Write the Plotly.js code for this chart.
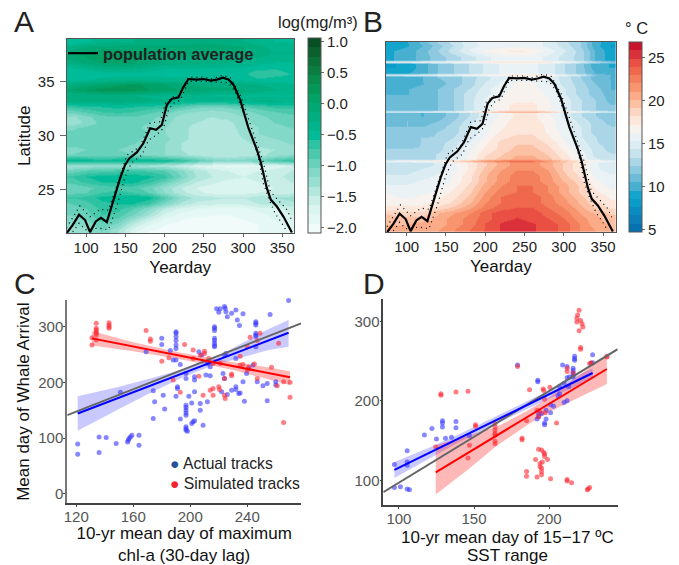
<!DOCTYPE html>
<html>
<head>
<meta charset="utf-8">
<script src="https://cdn.plot.ly/plotly-3.0.1.min.js"></script>
<style>html,body{margin:0;padding:0;background:#fff}</style>
</head>
<body>
<div id="grafico" style="width:679px;height:565px"></div>
<script>
// heatmap grid
const days = [80,100,120,140,160,180,200,220,240,260,280,300,320,340,360];
const chlLats = [21.25,21.75,22.25,22.75,23.25,23.75,24.25,24.75,25.25,25.75,26.25,26.75,27.25,27.75,28.25,28.75,29.25,29.75,30.25,30.75,31.25,31.75,32.25,32.75,33.25,33.75,34.25,34.75,35.25,35.75,36.25,36.75,37.25,37.75,38.25,38.75];
// sst has thin warm stripes, so its rows are not evenly spaced
const sstLats = [21.25,21.75,22.25,22.75,23.25,23.75,24.25,24.75,25.25,25.75,26.25,26.75,27.25,27.45,27.6,27.75,28.25,28.75,29.25,29.75,30.25,30.75,31.25,31.75,32,32.15,32.3,32.75,33.25,33.75,34.25,34.75,35.25,35.4,35.55,35.7,36.25,36.6,36.75,36.9,37.25,37.75,38.25,38.75];

// chl-a, log(mg/m3), bottom row first
const chl = [
[-1.35,-1.25,-1.05,-1.35,-1.75,-1.95,-2.0,-2.05,-2.1,-2.1,-2.05,-2.0,-1.95,-1.9,-1.8],
[-1.2,-1.15,-0.95,-1.1,-1.55,-1.8,-1.95,-2.0,-2.05,-2.05,-2.05,-2.0,-1.95,-1.85,-1.75],
[-1.1,-1.05,-0.85,-0.95,-1.3,-1.6,-1.85,-1.95,-2.0,-2.0,-2.0,-1.95,-1.9,-1.8,-1.7],
[-1.05,-0.95,-0.75,-0.8,-1.05,-1.35,-1.7,-1.85,-1.9,-1.95,-1.95,-1.9,-1.85,-1.75,-1.65],
[-1.0,-0.9,-0.7,-0.7,-0.9,-1.15,-1.5,-1.7,-1.8,-1.85,-1.85,-1.85,-1.75,-1.7,-1.6],
[-0.9,-0.8,-0.65,-0.6,-0.6,-0.75,-1.1,-1.4,-1.55,-1.6,-1.65,-1.6,-1.5,-1.45,-1.4],
[-0.75,-0.7,-0.55,-0.5,-0.45,-0.5,-0.85,-1.2,-1.4,-1.45,-1.5,-1.5,-1.4,-1.35,-1.3],
[-0.95,-0.9,-0.75,-0.7,-0.75,-0.9,-1.2,-1.45,-1.6,-1.7,-1.75,-1.7,-1.65,-1.6,-1.55],
[-1.05,-0.95,-0.85,-0.8,-0.85,-1.0,-1.25,-1.5,-1.65,-1.75,-1.8,-1.75,-1.7,-1.65,-1.6],
[-0.85,-0.7,-0.6,-0.55,-0.55,-0.7,-0.95,-1.25,-1.5,-1.6,-1.7,-1.7,-1.65,-1.6,-1.5],
[-0.75,-0.6,-0.5,-0.5,-0.5,-0.55,-0.7,-1.05,-1.35,-1.5,-1.6,-1.65,-1.6,-1.55,-1.45],
[-1.0,-0.9,-0.85,-0.8,-0.75,-0.8,-0.9,-1.15,-1.4,-1.55,-1.65,-1.7,-1.65,-1.6,-1.5],
[-1.35,-1.3,-1.25,-1.25,-1.3,-1.35,-1.4,-1.55,-1.7,-1.8,-1.85,-1.85,-1.8,-1.75,-1.65],
[-0.45,-0.5,-0.55,-0.5,-0.45,-0.45,-0.55,-0.65,-0.85,-1.05,-1.15,-1.1,-1.0,-0.8,-0.7],
[-1.05,-1.0,-1.0,-1.0,-1.05,-1.1,-1.2,-1.3,-1.4,-1.5,-1.5,-1.45,-1.4,-1.3,-1.2],
[-1.1,-1.05,-1.0,-1.05,-1.1,-1.15,-1.2,-1.35,-1.45,-1.5,-1.5,-1.45,-1.4,-1.35,-1.25],
[-1.0,-1.0,-0.95,-1.0,-1.05,-1.1,-1.2,-1.35,-1.45,-1.5,-1.5,-1.4,-1.3,-1.25,-1.2],
[-0.95,-0.95,-0.9,-0.95,-1.0,-1.1,-1.15,-1.3,-1.4,-1.45,-1.45,-1.35,-1.25,-1.2,-1.15],
[-1.0,-0.95,-0.9,-0.9,-0.95,-1.05,-1.2,-1.3,-1.4,-1.45,-1.45,-1.3,-1.2,-1.15,-1.1],
[-1.1,-1.0,-0.95,-0.95,-1.0,-1.1,-1.2,-1.3,-1.4,-1.4,-1.4,-1.3,-1.2,-1.1,-1.05],
[-1.35,-1.15,-1.0,-0.95,-1.0,-1.05,-1.15,-1.3,-1.35,-1.4,-1.4,-1.25,-1.15,-1.05,-1.0],
[-1.25,-1.1,-0.95,-0.9,-0.9,-1.0,-1.1,-1.25,-1.3,-1.35,-1.3,-1.2,-1.1,-1.0,-0.95],
[-1.0,-0.85,-0.75,-0.7,-0.75,-0.85,-0.95,-1.15,-1.2,-1.25,-1.2,-1.1,-1.0,-0.9,-0.85],
[-0.7,-0.65,-0.6,-0.55,-0.6,-0.65,-0.7,-0.85,-1.0,-1.05,-1.0,-0.9,-0.8,-0.7,-0.7],
[-0.2,-0.2,-0.2,-0.15,-0.2,-0.25,-0.3,-0.35,-0.4,-0.4,-0.4,-0.35,-0.3,-0.3,-0.35],
[-0.3,-0.3,-0.25,-0.25,-0.3,-0.35,-0.4,-0.4,-0.4,-0.45,-0.45,-0.45,-0.45,-0.45,-0.45],
[0.0,0.15,0.25,0.3,0.25,0.15,0.05,0.0,-0.05,-0.1,-0.1,-0.15,-0.2,-0.3,-0.35],
[-0.2,-0.1,0.0,0.1,0.2,0.1,0.0,-0.1,-0.15,-0.2,-0.2,-0.25,-0.3,-0.35,-0.4],
[-0.5,-0.45,-0.4,-0.35,-0.35,-0.35,-0.4,-0.4,-0.4,-0.4,-0.45,-0.5,-0.55,-0.55,-0.55],
[-0.6,-0.6,-0.55,-0.5,-0.5,-0.5,-0.5,-0.5,-0.5,-0.5,-0.55,-0.55,-0.75,-0.65,-0.6],
[-0.5,-0.4,-0.3,-0.25,-0.3,-0.4,-0.45,-0.45,-0.45,-0.45,-0.5,-0.5,-0.55,-0.6,-0.55],
[-0.25,-0.1,0.0,0.05,0.0,-0.1,-0.2,-0.25,-0.25,-0.3,-0.3,-0.35,-0.4,-0.45,-0.45],
[-0.1,0.0,0.1,0.1,0.05,-0.05,-0.1,-0.15,-0.2,-0.2,-0.25,-0.25,-0.3,-0.35,-0.35],
[-0.05,0.05,0.1,0.1,0.05,0.0,-0.05,-0.05,-0.1,-0.1,-0.1,-0.15,-0.25,-0.3,-0.3],
[-0.3,-0.15,-0.1,-0.1,-0.1,-0.1,-0.1,-0.1,-0.05,-0.05,-0.1,-0.15,-0.25,-0.35,-0.35],
[-0.6,-0.5,-0.35,-0.35,-0.3,-0.25,-0.25,-0.25,-0.2,-0.2,-0.25,-0.3,-0.4,-0.45,-0.45]
];

// SST, deg C, bottom row first
const sst = [
[20.5,20.5,20.5,21,22,23,24,25,25.5,25,24.5,23.5,22,21,20],
[20,20,20.5,20.5,21.5,22.5,24,25,25.5,25,24.5,23.5,22,20.5,20],
[19.5,19.5,19.5,20.5,21.5,22.5,23.5,24.5,25,24.5,24,23,21.5,20.5,19.5],
[19,18.5,18.5,20,21,22,23.5,24.5,24.5,24.5,23.5,22.5,21,20,19],
[17.5,17.5,17.5,18.5,19.5,21,22.5,23.5,24,24,23,22,20.5,19,18],
[17,17,17,17.5,18.5,20,22,23,23.5,23.5,22.5,21.5,20,18.5,17.5],
[16.5,16,16.5,17,18,19.5,21.5,23,23.5,23.5,22.5,21,19.5,18,17],
[16,16,16,16.5,17.5,19,21,22.5,23,23,22,20.5,19,17.5,16.5],
[15.5,15.5,15.5,16,17,18.5,20.5,22,23,23,22,20.5,19,17,16],
[15,15,15.5,15.5,16.5,18,20,21.5,22.5,22.5,21.5,20,18.5,16.5,15.5],
[14.5,14.5,15,15.5,16.5,18,20,21.5,22.5,22.5,21.5,19.5,18,16,15.5],
[14,14,14.5,15,16,17.5,19.5,21,22,22,21,19,17.5,15.5,15],
[13.5,14,14,14.5,16,17.5,19,20.5,21.5,21.5,20.5,19,17.5,15.5,14.5],
[13.5,14,14,14.5,16,17.5,19,20.5,21.5,21.5,20.5,19,17.5,15.5,14.5],
[16,16.5,17,17.5,18.5,20,21.5,22.5,23.5,23,21.5,19.5,18,16.5,16],
[12.5,13,13,13.5,15,16.5,18.5,19.5,20.5,20.5,19.5,18,16,14.5,14],
[12.5,13,13,13.5,14.5,16.5,18,19,20,20,19,17.5,16,14,13.5],
[12.5,12.5,12.5,13,14.5,16,17.5,18.5,19.5,19.5,18.5,17,15.5,14,13],
[12,12,12.5,13,14,15.5,17,18.5,19,19,18,16.5,15,13.5,13],
[11.5,12,12.5,12.5,13.5,15,16.5,18,18.5,18.5,17.5,16,14.5,13.5,12.5],
[11.5,11.5,12,12.5,13,14.5,16,17.5,18,18,17,16,14.5,13,12.5],
[11.5,11.5,11.5,12,13,14.5,16,17,18,18,17,15.5,14.5,13,12.5],
[11,11.5,11,11.5,12.5,14,15.5,17,17.5,17.5,17,15.5,14,13,12],
[11,11,10.5,11,12,13.5,15,16.5,17.5,17.5,16.5,15,13.5,12.5,11.5],
[11,11,10.5,11,12,13.5,15,16.5,17.5,17.5,16.5,15,13.5,12.5,11.5],
[15,15,15.5,15.5,16,17,18.5,20,20.5,20.5,19.5,17.5,16.5,15.5,15],
[11,11,11,11.5,12.5,14,15.5,17,17.5,17.5,16.5,15,13.5,12.5,11.5],
[11,11,11,11.5,12.5,14,15.5,17,17.5,17.5,16.5,15,13.5,12.5,11.5],
[11,11,11,11.5,12.5,14,15.5,16.5,17,17,16.5,15,13.5,12.5,11],
[10.5,10.5,11,11.5,12.5,14,15,16,17,17,16,14.5,13,12,11],
[10.5,10.5,11,11.5,12.5,13.5,15,16,16.5,16.5,16,14.5,13,12,10.5],
[10,10,10.5,11,12,13,14.5,15.5,16.5,16.5,15.5,14,13,11.5,10.5],
[10,10,10.5,11.5,12,13,14,15,16,16,15,14,12.5,11,10.5],
[10,10,10.5,11.5,12,13,14,15,16,16,15,14,12.5,11,10.5],
[14.5,15,15,15.5,16,16.5,16.5,17,17.5,17.5,17,15.5,14.5,11.5,10.5],
[9.5,9.5,10,11.5,12.5,13.5,14.5,15.5,16,15.5,15,13.5,12,10.5,10],
[8.5,9,10,11.5,12.5,13.5,14.5,15.5,16,15.5,15,13.5,12,10,9.5],
[8.5,9,10,11.5,12.5,13.5,14.5,15.5,16,15.5,15,13.5,12,10,9.5],
[15.5,15.5,16,16,16.5,17,17.5,18,18,18,17.5,16.5,15,13.5,12],
[9.5,10,11,12,13,14,15,16,16,16,15,14,13,10.5,9],
[9.5,10,11,12,13,14,15,16,16,16,15,14,13,10.5,9],
[9.5,10,11,12.5,14,15.5,16.5,17,17.5,17,16,14.5,13,10.5,9],
[9,9.5,10.5,12,13.5,15,15.5,16,16,16,15,14,12.5,10,8.5],
[9,9.5,11,13,14,15,16,16.5,16.5,16,15,13.5,12.5,10,9]
];

// population average and its dotted bounds
const avgDay = [75.3,83,91,98.7,105,112.3,119,126.4,135,143.4,149.7,155,164.6,173,181.6,189.3,196.5,203,209,217.8,224,230.5,241,249.7,259,266.7,274.3,281.5,288,296.4,307,317.7,322.8,330.4,335.5,343.2,351.7,362.3];
const avgLat = [21,21.76,22.7,22.2,21.08,22.07,22.4,22,24.07,26.08,27.3,27.9,28.46,29.3,30.7,30.55,31,32.87,33.4,33.55,34.5,35.25,35.2,35.25,35.1,35.2,35.37,35.2,34.7,33.33,30.7,28.7,27.5,25.15,24.07,23.45,22.5,21.05];
const upDay = [75,92,105,118,128.5,137,152,169,181.6,194.4,201,211,218,230.5,249.7,259,274,283.7,296.4,317.7,326,334.7,345,356,362];
const upLat = [21.5,23.5,22.5,23.2,23.1,25,28.2,29,31.2,31.3,33,33.6,33.7,35.43,35.43,35.25,35.6,35.4,33.8,29.3,27.5,24.85,24,23.15,22.2];
const loDay = [83,91,98.7,116,128.5,139,149.7,158,171,179.5,190,198.6,205,211.4,220,230.5,249.7,266.7,281.5,290,300.7,313.4,320,326,332.6,341,349.6,356];
const loLat = [21.1,21.9,21.3,21.45,21.3,23.45,26.2,27.5,28.2,29.6,30.1,30.7,32.4,33,33.3,35.03,35.03,34.94,34.9,34.1,32.1,29.6,27.8,25.6,24.2,22.8,21.9,21.1];

// panel C points
const cActualX = [121,121,136,136,141,148,156,156.5,157,158,159,164,164,151,169,174,175,174,181,182,180,180,186,188,190,190,190,190,190,190,190,191,191,190,193,193,197,197,197,197,197,197,197,197,198,197,197,199,201,201,202,203,203,203,203,207,207,209,206,208,211,214,212,214,212,217,217,217,217,217,217,217,217,218.5,221,224,224.5,220,225,226,229,232,233,234.5,237,223,224,229,232,232,234,235,226,222,238,237,224,225,232,239.5,241,244,246,246,246,246,246,246,246,247,251,254,254,256,260,260,266,269];
const cActualY = [89,71,102,74,101,90,93,96,99,102,105,105,87,182,255,185,165,135,177,152,279,268,257,240,291,288,282,275,267,261,240,192,189,175,232,134,159,155,150,145,141,120,117,114,112,207,216,175,163,126,129,131,183,210,204,150,162,123,255,249,213,212,234,228,165,300,297,293,279,275,270,266,264,332,332,336,333,326,327,318,324,330,312,302,323,216,207,186,192,187,180,181,178,183,166,201,249,252,243,216,225,231,309,306,303,288,285,283,264,201,194,198,167,322,201,195,358,347];
const cSimX = [131,131,134,134,134,134,134,134,134,143,143,143,143,169,172,172,180,185,188,196,193,202,202,206,207,210,210,213,214,216,216,220,220.5,224,224.5,224,229,229,235,237,241,240,242,245,247,249,247,257,262,261,265.5,270,270,265.5,235,240,209,216,221];
const cSimY = [267,280,306,297,294,291,288,285,276,307,303,300,297,293,278,274,238,244,204,268,182,258,243,211,249,256,252,243,186,189,177,192,187,177,171,207,215,212,247,232,228,264,281,233,275,288,207,227,270,194,201,200,173,128,231,222,177,234,234];

// panel D points
const dActualX = [97,97,101,105.5,105.5,105.5,105.5,107,117,122,125,129,129,129,131,135,138,138,147,179,192.5,192.5,192,193,195,193,198,197,197,201,198,201,203,207,206,210,212,209,212,212,213.5,216,216,216,216,216,217,217,217,229,229,228,210,213,207];
const dActualY = [120,91,92,137,123,119,89,88,157,165,152,175,172,167,153,154,174,166,156,245,226,224,177,180,184,184,177,172,170,185,188,195,193,209,206,198,200,245,243,229,230,241,238,235,232,230,256,253,251,258,248,247,222,218,218];
const dSimX = [124.5,128,128,138,146,151,151,147,146,164,164,164,164,164,164,164,182,182,185,187,179,196,196.5,197,200.5,205,197.5,192,193,194,193,195,196.5,197,197,191,199,194,195.5,194,195,195,195,192,185,185,201,212,212,215,225.5,226,227,220,219,218.5,218.5,221,222,222.5,220,221,221,212,212,216,227,238.5,238.5,228];
const dSimY = [142,209,207,211,212,170,168,144,128,171,167,163,159,157,149,146,153,151,175,214,243,215,213,202,217,172,185,188,180,186,139,138,135,133,130,126,126,121,123,117,115,111,107,104,111,105,102,101,99,97,88,89,91,314,308,304,299,301,297,293,288,267,265,237,241,235,247,255,256,248];

// fit lines and confidence bands
const cGreyX = [113.7,277.7], cGreyY = [141,306];
const cBlueX = [121,269], cBlueY = [144,289];
const cRedX = [131,270], cRedY = [279,209];
const cBlueBandX = [121,150,175,195,215,235,255,269];
const cBlueBandUp = [175,192,209,224,241,268,296,312];
const cBlueBandLo = [113,152,185,209,230,244,258,264];
const cRedBandX = [131,160,190,210,230,250,270];
const cRedBandUp = [292,272,255,245,236,229,220];
const cRedBandLo = [266,256,243,233,222,209,195];

const dGreyX = [89.6,245.7], dGreyY = [85,265];
const dBlueX = [97,229], dBlueY = [113,235];
const dRedX = [124.5,238.5], dRedY = [110,240];
const dBlueBandX = [97,120,140,160,180,200,215,229];
const dBlueBandUp = [123,141,158,176,194,213,228,241];
const dBlueBandLo = [103,127,148,166,185,203,216,228];
const dRedBandX = [124.5,145,165,185,200,220,238.5];
const dRedBandUp = [144,156,167,187,204,232,258];
const dRedBandLo = [82,112,143,169,186,204,221];

// colorbar steps
const chlSteps = ['#f0fbfa','#e6f8f5','#daf4f0','#c8eee7','#b2e7de','#98dfd2','#82d9c8','#68d1bb','#4ac9ad','#2cc2a2','#00bb97','#00b58c','#00ae80','#00a873','#00a267','#039858','#088c4c','#0a7e41','#0a7037','#0a612e','#084f25'];
const sstSteps = ['#0571b0','#0a7fb8','#0b8cc0','#0b9bc9','#14a5cc','#47afd0','#6cbcd8','#8dc9e0','#aad6e7','#c6e3ee','#dbecf3','#eaf2f5','#f7f2ee','#fde6da','#fcd6c3','#fcc0a3','#fbab88','#f8956f','#f47f5c','#ef674d','#e94f42','#d9303a','#c9142e'];

const W = 679, H = 565;
const FONT = '"Liberation Sans", Arial, sans-serif';
const fx = p => p / W;
const fy = p => 1 - p / H;

function stepped(cols) {
	const out = [];
	cols.forEach((c, i) => {
		out.push([i / cols.length, c]);
		out.push([(i + 1) / cols.length, c]);
	});
	return out;
}

function colorbar(left, top, len, dtick, tick0, fmt) {
	return {
		x: fx(left), xanchor: 'left', y: fy(top), yanchor: 'top',
		thickness: 12.5, lenmode: 'pixels', len: len, xpad: 0, ypad: 0,
		outlinewidth: 1, outlinecolor: '#555',
		ticks: 'outside', ticklen: 3, tickcolor: '#666', tickwidth: 1,
		dtick: dtick, tick0: tick0, tickformat: fmt,
		tickfont: {size: 15, color: '#222', family: FONT}
	};
}

// average line + bounds for one heatmap panel
function avgTraces(xa, ya, legend) {
	return [
		{x: upDay, y: upLat, xaxis: xa, yaxis: ya, mode: 'lines', showlegend: false, line: {color: '#000', width: 1.2, dash: '1px,4px'}},
		{x: loDay, y: loLat, xaxis: xa, yaxis: ya, mode: 'lines', showlegend: false, line: {color: '#000', width: 1.2, dash: '1px,4px'}},
		{x: avgDay, y: avgLat, xaxis: xa, yaxis: ya, mode: 'lines', name: 'population average', showlegend: legend, line: {color: '#000', width: 2.2}}
	];
}

function band(xs, up, lo, col, xa, ya) {
	return {
		x: xs.concat(xs.slice().reverse()), y: up.concat(lo.slice().reverse()),
		xaxis: xa, yaxis: ya, mode: 'lines', fill: 'toself', fillcolor: col,
		line: {width: 0}, showlegend: false, hoverinfo: 'skip'
	};
}
function pts(xs, ys, col, xa, ya) {
	return {x: xs, y: ys, xaxis: xa, yaxis: ya, mode: 'markers', showlegend: false, cliponaxis: false, marker: {color: col, size: 5, line: {width: 0}}};
}
function fit(xs, ys, col, xa, ya) {
	return {x: xs, y: ys, xaxis: xa, yaxis: ya, mode: 'lines', showlegend: false, line: {color: col, width: 2}};
}

const BLUE_PT = 'rgba(55,55,255,0.6)', RED_PT = 'rgba(255,40,50,0.6)';
const BLUE_BAND = 'rgba(60,60,255,0.28)', RED_BAND = 'rgba(255,0,0,0.28)';

const data = [
	{type: 'heatmap', x: days, y: chlLats, z: chl, xaxis: 'x', yaxis: 'y', zsmooth: 'best', zmin: -2.1, zmax: 1.05,
	 colorscale: stepped(chlSteps), colorbar: colorbar(308, 38.5, 194.5, 0.5, -2, '.1f')},
	{type: 'heatmap', x: days, y: sstLats, z: sst, xaxis: 'x2', yaxis: 'y2', zsmooth: 'best', zmin: 4.8, zmax: 26.8,
	 colorscale: stepped(sstSteps), colorbar: colorbar(629, 41.7, 190.3, 5, 5, 'd')},
	...avgTraces('x', 'y', true),
	...avgTraces('x2', 'y2', false),

	band(cBlueBandX, cBlueBandUp, cBlueBandLo, BLUE_BAND, 'x3', 'y3'),
	band(cRedBandX, cRedBandUp, cRedBandLo, RED_BAND, 'x3', 'y3'),
	pts(cActualX, cActualY, BLUE_PT, 'x3', 'y3'),
	pts(cSimX, cSimY, RED_PT, 'x3', 'y3'),
	fit(cGreyX, cGreyY, '#666', 'x3', 'y3'),
	fit(cBlueX, cBlueY, '#0000ff', 'x3', 'y3'),
	fit(cRedX, cRedY, '#ff0000', 'x3', 'y3'),

	band(dBlueBandX, dBlueBandUp, dBlueBandLo, BLUE_BAND, 'x4', 'y4'),
	band(dRedBandX, dRedBandUp, dRedBandLo, RED_BAND, 'x4', 'y4'),
	pts(dActualX, dActualY, BLUE_PT, 'x4', 'y4'),
	pts(dSimX, dSimY, RED_PT, 'x4', 'y4'),
	fit(dGreyX, dGreyY, '#666', 'x4', 'y4'),
	fit(dBlueX, dBlueY, '#0000ff', 'x4', 'y4'),
	fit(dRedX, dRedY, '#ff0000', 'x4', 'y4')
];

function heatAxis(extra) {
	return Object.assign({
		showgrid: false, zeroline: false, showline: true, mirror: true, linecolor: '#555', linewidth: 1,
		ticks: 'outside', ticklen: 3, tickcolor: '#666', ticklabelstandoff: -2, tickfont: {size: 15, color: '#222', family: FONT}
	}, extra);
}
function scatAxis(extra) {
	return Object.assign({
		showgrid: false, zeroline: false, showline: true, linecolor: '#444', linewidth: 1.5,
		ticks: 'outside', ticklen: 2, tickcolor: '#444', ticklabelstandoff: -3, tickfont: {size: 15, color: '#555', family: FONT}
	}, extra);
}
const TITLE_FONT = {size: 17, color: '#111', family: FONT};
const axTitle = (text, standoff) => ({text: text, standoff: standoff, font: TITLE_FONT});

const letter = (t, x, y) => ({text: t, xref: 'paper', yref: 'paper', x: fx(x), y: fy(y), xanchor: 'left', yanchor: 'middle', showarrow: false, font: {size: 30, color: '#222', family: FONT}});
const note = (t, x, y, size) => ({text: t, xref: 'paper', yref: 'paper', x: fx(x), y: fy(y), xanchor: 'left', yanchor: 'middle', showarrow: false, font: {size: size, color: '#222', family: FONT}});
// off-centre under the axis in the original, so placed by hand
const dTitleLine = (t, y) => ({text: t, xref: 'paper', yref: 'paper', x: fx(507), y: fy(y), xanchor: 'center', yanchor: 'middle', showarrow: false, font: TITLE_FONT});

const layout = {
	width: W, height: H,
	margin: {l: 0, r: 0, t: 0, b: 0},
	paper_bgcolor: '#fff', plot_bgcolor: '#fff',
	font: {family: FONT},
	xaxis: heatAxis({domain: [fx(66.5), fx(294)], range: [75, 365], anchor: 'y', tickvals: [100,150,200,250,300,350], title: axTitle('Yearday', 6)}),
	yaxis: heatAxis({domain: [fy(233), fy(38.5)], range: [21, 39], anchor: 'x', tickvals: [25,30,35], ticklen: 6, ticklabelstandoff: 2, title: axTitle('Latitude', 2)}),
	xaxis2: heatAxis({domain: [fx(386), fx(615.7)], range: [73.7, 366], anchor: 'y2', tickvals: [100,150,200,250,300,350], title: axTitle('Yearday', 6)}),
	yaxis2: heatAxis({domain: [fy(232), fy(41.7)], range: [21, 38.6], anchor: 'x2', showticklabels: false, ticks: ''}),
	xaxis3: scatAxis({domain: [fx(67.3), fx(301)], range: [113.7, 277.7], anchor: 'y3', tickvals: [120,160,200,240], title: axTitle('10-yr mean day of maximum<br>chl-a (30-day lag)', 5)}),
	yaxis3: scatAxis({domain: [fy(503.3), fy(300)], range: [-17.3, 347.9], anchor: 'x3', tickvals: [0,100,200,300], linecolor: '#777', linewidth: 2, title: axTitle('Mean day of Whale Arrival', 4)}),
	xaxis4: scatAxis({domain: [fx(383.3), fx(617.7)], range: [89.6, 245.7], anchor: 'y4', tickvals: [100,150,200]}),
	yaxis4: scatAxis({domain: [fy(505), fy(299.3)], range: [68.9, 327.7], anchor: 'x4', tickvals: [100,200,300]}),
	legend: {x: fx(63), y: fy(36), xanchor: 'left', yanchor: 'top', bgcolor: 'rgba(0,0,0,0)', itemwidth: 30, font: {size: 16.4, weight: 'bold', color: '#222', family: FONT}},
	annotations: [
		letter('A', 12, 22), letter('B', 361, 22), letter('C', 12, 283), letter('D', 361, 283),
		note('log(mg/m\u00b3)', 276, 22, 16.5),
		note('\u00b0 C', 623, 28, 16.5),
		note('<span style="color:#27509b">\u25cf</span> Actual tracks', 168, 463, 15.7),
		note('<span style="color:#f5222d">\u25cf</span> Simulated tracks', 168, 483, 15.7),
		dTitleLine('10-yr mean day of 15\u221217 \u00baC', 537),
		dTitleLine('SST range', 555.5)
	]
};

Plotly.newPlot('grafico', data, layout, {displayModeBar: false});
</script>
</body>
</html>
